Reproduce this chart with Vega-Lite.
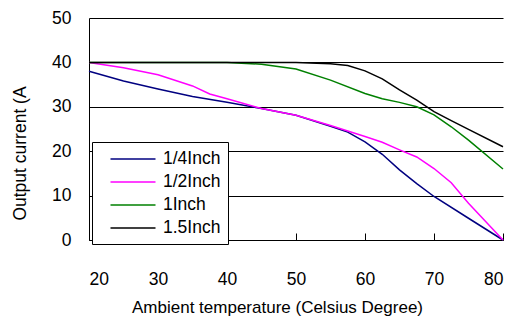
{
  "$schema": "https://vega.github.io/schema/vega-lite/v6.json",
  "width": 414,
  "height": 222,
  "autosize": "none",
  "padding": {"left": 89, "top": 18, "right": 13, "bottom": 82},
  "background": "white",
  "config": {
    "font": "Liberation Sans",
    "view": {"stroke": null},
    "axis": {"labelColor": "black", "titleColor": "black", "labelFont": "Liberation Sans", "titleFont": "Liberation Sans", "labelFontSize": 17.5, "titleFontSize": 17, "titleFontWeight": "normal", "domainColor": "black", "tickColor": "black", "gridColor": "black", "gridOpacity": 1}
  },
  "data": {"values": [
    {"s": "1/4Inch", "x": 20, "y": 38.0},
    {"s": "1/4Inch", "x": 25, "y": 35.8},
    {"s": "1/4Inch", "x": 30, "y": 34.0},
    {"s": "1/4Inch", "x": 35, "y": 32.3},
    {"s": "1/4Inch", "x": 40, "y": 31.0},
    {"s": "1/4Inch", "x": 45, "y": 29.6},
    {"s": "1/4Inch", "x": 50, "y": 28.1},
    {"s": "1/4Inch", "x": 55, "y": 25.6},
    {"s": "1/4Inch", "x": 57.5, "y": 24.3},
    {"s": "1/4Inch", "x": 60, "y": 22.1},
    {"s": "1/4Inch", "x": 62.5, "y": 19.3},
    {"s": "1/4Inch", "x": 65, "y": 15.8},
    {"s": "1/4Inch", "x": 67.5, "y": 12.7},
    {"s": "1/4Inch", "x": 70, "y": 9.8},
    {"s": "1/4Inch", "x": 75, "y": 4.9},
    {"s": "1/4Inch", "x": 80, "y": 0},
    {"s": "1/2Inch", "x": 20, "y": 40.0},
    {"s": "1/2Inch", "x": 25, "y": 38.8},
    {"s": "1/2Inch", "x": 30, "y": 37.2},
    {"s": "1/2Inch", "x": 35, "y": 34.7},
    {"s": "1/2Inch", "x": 37.5, "y": 32.9},
    {"s": "1/2Inch", "x": 40, "y": 31.8},
    {"s": "1/2Inch", "x": 45, "y": 29.6},
    {"s": "1/2Inch", "x": 50, "y": 28.1},
    {"s": "1/2Inch", "x": 55, "y": 25.8},
    {"s": "1/2Inch", "x": 60, "y": 23.3},
    {"s": "1/2Inch", "x": 62.5, "y": 22.0},
    {"s": "1/2Inch", "x": 65, "y": 20.3},
    {"s": "1/2Inch", "x": 67.5, "y": 18.7},
    {"s": "1/2Inch", "x": 70, "y": 16.1},
    {"s": "1/2Inch", "x": 72.5, "y": 12.9},
    {"s": "1/2Inch", "x": 75, "y": 8.3},
    {"s": "1/2Inch", "x": 80, "y": 0},
    {"s": "1Inch", "x": 20, "y": 40.0},
    {"s": "1Inch", "x": 40, "y": 40.0},
    {"s": "1Inch", "x": 45, "y": 39.6},
    {"s": "1Inch", "x": 50, "y": 38.5},
    {"s": "1Inch", "x": 55, "y": 36.0},
    {"s": "1Inch", "x": 60, "y": 33.0},
    {"s": "1Inch", "x": 62.5, "y": 31.8},
    {"s": "1Inch", "x": 65, "y": 31.0},
    {"s": "1Inch", "x": 67.5, "y": 30.0},
    {"s": "1Inch", "x": 70, "y": 28.2},
    {"s": "1Inch", "x": 72.5, "y": 25.5},
    {"s": "1Inch", "x": 75, "y": 22.5},
    {"s": "1Inch", "x": 80, "y": 16.0},
    {"s": "1.5Inch", "x": 20, "y": 40.0},
    {"s": "1.5Inch", "x": 50, "y": 40.0},
    {"s": "1.5Inch", "x": 55, "y": 39.7},
    {"s": "1.5Inch", "x": 57.5, "y": 39.3},
    {"s": "1.5Inch", "x": 60, "y": 38.1},
    {"s": "1.5Inch", "x": 62.5, "y": 36.3},
    {"s": "1.5Inch", "x": 65, "y": 33.8},
    {"s": "1.5Inch", "x": 67.5, "y": 31.5},
    {"s": "1.5Inch", "x": 70, "y": 28.9},
    {"s": "1.5Inch", "x": 72.5, "y": 26.9},
    {"s": "1.5Inch", "x": 75, "y": 24.9},
    {"s": "1.5Inch", "x": 80, "y": 21.0}
  ]},
  "mark": {"type": "line", "strokeWidth": 1.5},
  "encoding": {
    "x": {"field": "x", "type": "quantitative", "scale": {"domain": [20, 80], "nice": false, "zero": false},
      "axis": {"values": [20, 30, 40, 50, 60, 70, 80], "grid": false, "ticks": true, "tickSize": -7, "labelPadding": 37, "title": "Ambient temperature (Celsius Degree)", "titlePadding": 12, "titleX": 188, "titleAlign": "center"}},
    "y": {"field": "y", "type": "quantitative", "scale": {"domain": [0, 50], "nice": false},
      "axis": {"values": [0, 10, 20, 30, 40, 50], "grid": true, "ticks": false, "labelPadding": 18, "title": "Output current (A", "titleFontSize": 17.5, "titlePadding": 22, "titleY": 135, "titleAlign": "center"}},
    "color": {"field": "s", "type": "nominal", "sort": ["1/4Inch", "1/2Inch", "1Inch", "1.5Inch"],
      "scale": {"domain": ["1/4Inch", "1/2Inch", "1Inch", "1.5Inch"], "range": ["#000080", "#FF00FF", "#008000", "#000000"]},
      "legend": {"title": null, "orient": "none", "legendX": 3, "legendY": 124, "padding": 7, "strokeColor": "black", "fillColor": "white", "symbolType": "M-2.5,0H2.5", "symbolSize": 324, "symbolStrokeWidth": 1.5, "symbolOffset": 24, "labelOffset": 20, "labelFontSize": 17.5, "labelFont": "Liberation Sans", "labelColor": "black", "rowPadding": 4, "cornerRadius": 0}}
  }
}
